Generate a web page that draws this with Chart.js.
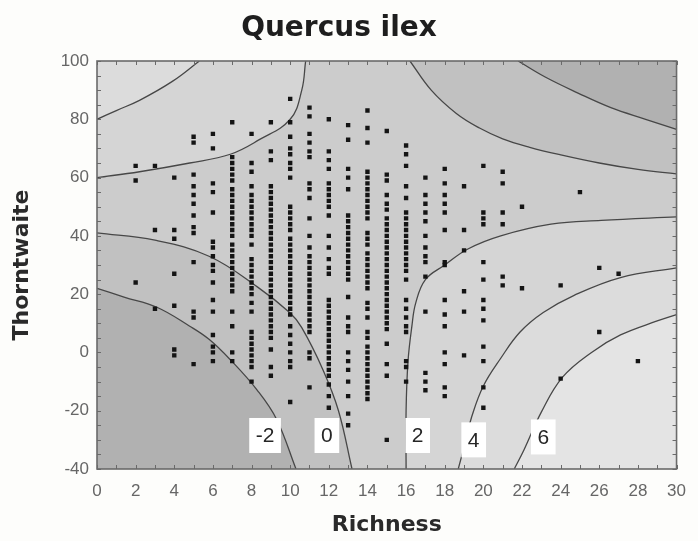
<!DOCTYPE html>
<html>
<head>
<meta charset="utf-8">
<title>Quercus ilex</title>
<script src="https://cdn.jsdelivr.net/npm/chart.js@4.4.1/dist/chart.umd.min.js"></script>
<style>
    html, body { margin: 0; padding: 0; background: #fdfdfb; }
    #wrap { width: 698px; height: 541px; }
</style>
</head>
<body>
<div id="wrap"><canvas id="chart" width="698" height="541"></canvas></div>
<script>
// Richness columns and the Thorntwaite values of the plots in each column
const richness = [2, 3, 4, 5, 6, 7, 8, 9, 10, 11, 12, 13, 14, 15, 16, 17, 18, 19, 20, 21, 22, 24, 25, 26, 27, 28];
const thorntwaite = [
    [64, 59, 24],
    [64, 42, 15],
    [60, 42, 39, 27, 16, 1, -1],
    [74, 72, 61, 57, 54, 51, 47, 43, 41, 31, 14, 12, -4],
    [75, 70, 58, 55, 48, 38, 36, 33, 30, 28, 24, 18, 14, 6, 2, 0, -3],
    [79, 67, 65, 63, 61, 59, 56, 54, 52, 50, 48, 46, 44, 42, 40, 37, 35, 33, 31, 29, 27, 25, 23, 21, 14, 9, 0, -3],
    [75, 65, 62, 57, 54, 52, 50, 48, 46, 44, 42, 40, 37, 32, 30, 28, 26, 24, 22, 20, 17, 14, 7, 5, 3, 1, -1, -3, -5, -10],
    [79, 69, 66, 57, 55, 53, 51, 49, 47, 45, 43, 41, 39, 37, 35, 33, 31, 29, 27, 25, 23, 21, 19, 17, 15, 13, 11, 9, 7, 5, 1, -5, -8],
    [87, 79, 74, 70, 68, 65, 63, 60, 50, 48, 46, 44, 42, 39, 37, 35, 33, 31, 29, 27, 25, 23, 21, 19, 17, 15, 13, 9, 6, 3, 0, -3, -5, -17],
    [84, 81, 75, 72, 69, 67, 58, 56, 53, 46, 40, 36, 33, 31, 29, 27, 25, 23, 21, 19, 17, 15, 13, 11, 9, 7, 0, -2, -12],
    [80, 69, 66, 63, 58, 56, 54, 52, 50, 47, 40, 36, 32, 29, 27, 18, 16, 14, 12, 10, 8, 6, 4, 2, 0, -2, -4, -6, -8, -11, -15, -19],
    [78, 73, 63, 60, 56, 47, 45, 43, 41, 39, 37, 35, 33, 31, 29, 27, 25, 19, 12, 9, 7, 0, -3, -6, -10, -15, -21, -25],
    [83, 77, 72, 62, 60, 58, 56, 54, 52, 50, 48, 46, 41, 39, 37, 34, 32, 30, 28, 26, 24, 22, 17, 15, 12, 7, 5, 2, 0, -2, -4, -6, -8, -10, -12, -14, -16],
    [76, 61, 59, 54, 51, 49, 46, 44, 42, 40, 38, 36, 34, 32, 30, 28, 26, 24, 22, 20, 18, 16, 14, 12, 10, 8, 3, -4, -8, -30],
    [71, 68, 64, 57, 53, 48, 46, 44, 42, 40, 38, 36, 34, 32, 30, 28, 25, 18, 15, 12, 9, 7, -3, -5, -10],
    [60, 54, 51, 48, 45, 40, 36, 33, 31, 26, 14, -7, -10, -13],
    [63, 58, 54, 51, 48, 42, 31, 30, 18, 13, 9, 0, -4, -12, -15],
    [57, 42, 35, 21, 14, -1],
    [64, 48, 46, 44, 31, 25, 18, 15, 11, 2, -3, -12, -19],
    [62, 58, 48, 44, 26, 23],
    [50, 22],
    [23, -9],
    [55],
    [29, 7],
    [27],
    [-3]
];

// Contour lines, [richness, thorntwaite]
const contourM2Left = [[0, 22], [1.4, 19], [3.1, 15.5], [4.8, 9], [5.8, 4.5], [6.9, -2.5], [8.3, -13], [9.3, -23], [10.3, -40]];
const contour0Left = [[0, 41], [3, 38.5], [5.8, 33], [8.3, 22.5], [10, 13.5], [10.6, 8.5], [11.7, -6], [12.5, -20], [13.2, -40]];
const contour2Left = [[0, 60], [2.2, 62], [4.8, 65], [6.9, 68], [8.4, 73], [10, 80], [10.6, 90], [10.8, 100]];
const contour4Left = [[0, 80], [1, 83], [2.2, 86.5], [3.9, 93], [5.3, 100]];
const contour0Right = [[16.2, 100], [17.3, 90], [18.6, 82], [19.8, 77], [21, 73.3], [22.4, 70.4], [24, 67.8], [26, 65], [28, 62.8], [30, 61.3]];
const contourM2Right = [[21.8, 100], [23.2, 94.5], [24.9, 89], [26.6, 84], [28.4, 80], [30, 76.5]];
const contour2Right = [[16, -40], [16, -20], [16.1, -3], [16.3, 9], [16.5, 17], [17, 25], [18, 30], [19.2, 35.5], [20.9, 40], [23.5, 44], [26.1, 45.3], [30, 46.5]];
const contour4Right = [[18.7, -40], [19.1, -30], [19.4, -22], [20, -11.5], [20.9, -2], [21.9, 7], [23.1, 13.7], [24.7, 19.6], [27.1, 25.7], [30, 29]];
const contour6Right = [[21.6, -40], [22.1, -33.5], [23, -20.5], [24.1, -8.5], [25.6, 0], [27.1, 6], [29, 10.8], [30, 13]];

// Contour level labels
const levelText = ['-2', '0', '2', '4', '6'];
const levelX = [8.7, 11.9, 16.6, 19.5, 23.1];
const levelY = [-28.5, -28.5, -28.5, -30, -29];

const LINE = '#474747';
const SHADE = {
    belowM2: '#b1b1b1',
    m2to0: '#c1c1c1',
    from0to2: '#cccccc',
    from2to4: '#d5d5d5',
    from4to6: '#dcdcdc',
    above6: '#e4e4e4'
};

const toXY = curve => curve.map(([x, y]) => ({ x, y }));

// closed region: contour + corner of the plot. The repeated end points keep
// the spline of the curve part identical to the contour line itself.
function region(curve, corner, color, order) {
    const pts = toXY(curve);
    const last = pts[pts.length - 1];
    const c = { x: corner[0], y: corner[1] };
    return {
        type: 'scatter',
        data: pts.concat([{ ...last }, c, { ...c }]),
        showLine: true,
        fill: 'shape',
        backgroundColor: color,
        borderWidth: 0,
        tension: 0.4,
        pointRadius: 0,
        pointHoverRadius: 0,
        order
    };
}

function contourLine(curve) {
    return {
        type: 'scatter',
        data: toXY(curve),
        showLine: true,
        fill: false,
        borderColor: LINE,
        borderWidth: 1.3,
        tension: 0.4,
        pointRadius: 0,
        pointHoverRadius: 0,
        order: 1
    };
}

const points = [];
richness.forEach((r, i) => {
    thorntwaite[i].forEach(t => points.push({ x: r, y: t }));
});

const plotFrame = {
    id: 'plotFrame',
    beforeDatasetsDraw(chart) {
        const { ctx, chartArea: a } = chart;
        ctx.save();
        ctx.fillStyle = SHADE.from0to2;
        ctx.fillRect(a.left, a.top, a.width, a.height);
        ctx.restore();
    },
    afterDatasetsDraw(chart) {
        const { ctx, chartArea: a, scales } = chart;
        const xs = scales.x, ys = scales.y;
        ctx.save();
        ctx.strokeStyle = '#6a6a6a';
        ctx.lineWidth = 1;
        ctx.beginPath();
        for (let v = 0; v <= 30; v++) {
            const px = Math.round(xs.getPixelForValue(v)) + 0.5;
            ctx.moveTo(px, a.bottom); ctx.lineTo(px, a.bottom - 4);
            ctx.moveTo(px, a.top); ctx.lineTo(px, a.top + 4);
        }
        for (let v = -40; v <= 100; v += 5) {
            const py = Math.round(ys.getPixelForValue(v)) + 0.5;
            ctx.moveTo(a.left, py); ctx.lineTo(a.left + 4, py);
            ctx.moveTo(a.right, py); ctx.lineTo(a.right - 4, py);
        }
        ctx.stroke();
        ctx.lineWidth = 1.6;
        ctx.strokeRect(a.left, a.top, a.width, a.height);

        // level labels in white boxes
        ctx.font = '21px "Liberation Sans", Arial, sans-serif';
        ctx.textAlign = 'center';
        ctx.textBaseline = 'middle';
        levelText.forEach((t, i) => {
            const px = xs.getPixelForValue(levelX[i]);
            const py = ys.getPixelForValue(levelY[i]);
            const w = ctx.measureText(t).width + 13;
            const h = 35;
            ctx.fillStyle = '#ffffff';
            ctx.fillRect(px - w / 2, py - h / 2, w, h);
            ctx.fillStyle = '#262626';
            ctx.fillText(t, px, py + 1);
        });
        ctx.restore();
    }
};

const allContours = [contourM2Left, contour0Left, contour2Left, contour4Left,
    contour0Right, contourM2Right, contour2Right, contour4Right, contour6Right];

const ctx = document.getElementById('chart').getContext('2d');
new Chart(ctx, {
    type: 'scatter',
    data: {
        datasets: [
            {
                data: points,
                pointStyle: 'rect',
                pointRadius: 3.1,
                backgroundColor: '#141414',
                borderWidth: 0,
                order: 0
            },
            ...allContours.map(contourLine),
            region(contourM2Left, [0, -40], SHADE.belowM2, 2),
            region(contour0Left, [0, -40], SHADE.m2to0, 3),
            region(contourM2Right, [30, 100], SHADE.belowM2, 2),
            region(contour0Right, [30, 100], SHADE.m2to0, 3),
            region(contour4Left, [0, 100], SHADE.from4to6, 2),
            region(contour2Left, [0, 100], SHADE.from2to4, 3),
            region(contour6Right, [30, -40], SHADE.above6, 2),
            region(contour4Right, [30, -40], SHADE.from4to6, 3),
            region(contour2Right, [30, -40], SHADE.from2to4, 4)
        ]
    },
    options: {
        responsive: false,
        animation: false,
        layout: { padding: { left: 0, right: 20, top: 0, bottom: 0 } },
        plugins: {
            legend: { display: false },
            tooltip: { enabled: false },
            title: {
                display: true,
                text: 'Quercus ilex',
                color: '#1e1e1e',
                font: { family: '"DejaVu Sans", sans-serif', size: 28, weight: 'bold' },
                padding: { top: 12, bottom: 15.4 }
            }
        },
        scales: {
            x: {
                type: 'linear',
                min: 0,
                max: 30,
                grid: { display: false, drawTicks: false },
                border: { display: false },
                ticks: {
                    stepSize: 2,
                    padding: 12,
                    color: '#666666',
                    font: { family: '"Liberation Sans", Arial, sans-serif', size: 17 }
                },
                title: {
                    display: true,
                    text: 'Richness',
                    color: '#2a2a2a',
                    font: { family: '"DejaVu Sans", sans-serif', size: 22, weight: 'bold' },
                    padding: { top: 0, bottom: 3 }
                },
                afterFit: s => { s.height = 72; }
            },
            y: {
                type: 'linear',
                min: -40,
                max: 100,
                grid: { display: false, drawTicks: false },
                border: { display: false },
                ticks: {
                    stepSize: 20,
                    padding: 8,
                    color: '#666666',
                    font: { family: '"Liberation Sans", Arial, sans-serif', size: 17 }
                },
                title: {
                    display: true,
                    text: 'Thorntwaite',
                    color: '#2a2a2a',
                    font: { family: '"DejaVu Sans", sans-serif', size: 22, weight: 'bold' },
                    padding: { top: 9, bottom: 0 }
                },
                afterFit: s => { s.width = 97; }
            }
        }
    },
    plugins: [plotFrame]
});
</script>
</body>
</html>
